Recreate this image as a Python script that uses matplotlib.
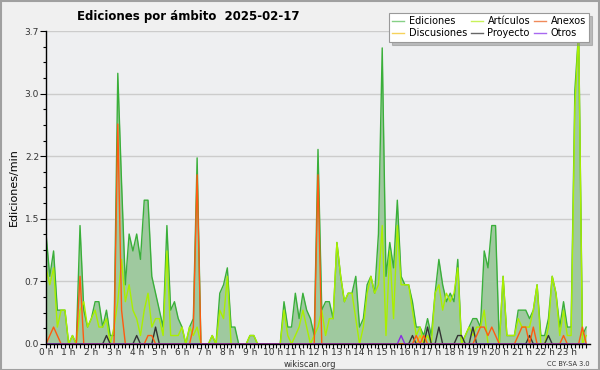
import matplotlib
matplotlib.use("Agg")
import matplotlib.pyplot as plt
from matplotlib.lines import Line2D
from matplotlib.patches import Rectangle
import numpy as np

# ---------------------------------------------------------------------------
# Data: ediciones por minuto, un valor cada 10 minutos (144 puntos)
# ---------------------------------------------------------------------------

TITLE = "Ediciones por ámbito  2025-02-17"
HOUR_LABELS = [f"{h} h" for h in range(24)]
Y_TICKS = [0.0, 0.74, 1.48, 2.22, 2.96, 3.7]
Y_LABELS = ["0.0", "0.7", "1.5", "2.2", "3.0", "3.7"]

ediciones = [
    1.3, 0.8, 1.1, 0.4, 0.4, 0.4, 0.0, 0.1, 0.0, 1.4, 0.4, 0.2,
    0.3, 0.5, 0.5, 0.2, 0.4, 0.1, 0.1, 3.2, 1.9, 0.7, 1.3, 1.1,
    1.3, 1.0, 1.7, 1.7, 0.8, 0.6, 0.4, 0.2, 1.4, 0.4, 0.5, 0.3,
    0.2, 0.0, 0.2, 0.3, 2.2, 0.0, 0.0, 0.0, 0.1, 0.0, 0.6, 0.7,
    0.9, 0.2, 0.2, 0.0, 0.0, 0.0, 0.1, 0.1, 0.0, 0.0, 0.0, 0.0,
    0.0, 0.0, 0.0, 0.5, 0.2, 0.2, 0.6, 0.3, 0.6, 0.4, 0.3, 0.1,
    2.3, 0.4, 0.5, 0.5, 0.3, 1.2, 0.8, 0.5, 0.6, 0.6, 0.8, 0.2,
    0.3, 0.7, 0.8, 0.6, 1.3, 3.5, 0.8, 1.2, 0.9, 1.7, 0.8, 0.7,
    0.7, 0.5, 0.2, 0.2, 0.1, 0.3, 0.1, 0.6, 1.0, 0.7, 0.5, 0.6,
    0.5, 1.0, 0.0, 0.1, 0.2, 0.3, 0.3, 0.2, 1.1, 0.9, 1.4, 1.4,
    0.0, 0.8, 0.1, 0.1, 0.1, 0.4, 0.4, 0.4, 0.3, 0.4, 0.7, 0.1,
    0.1, 0.3, 0.8, 0.6, 0.2, 0.5, 0.2, 0.2, 3.0, 3.7, 0.1, 0.2,
]

articulos = [
    0.9, 0.7, 0.9, 0.2, 0.4, 0.4, 0.0, 0.1, 0.0, 0.4, 0.5, 0.2,
    0.3, 0.4, 0.2, 0.2, 0.3, 0.0, 0.2, 0.5, 1.0, 0.5, 0.7, 0.4,
    0.3, 0.1, 0.4, 0.6, 0.2, 0.3, 0.3, 0.1, 1.1, 0.1, 0.1, 0.1,
    0.2, 0.0, 0.2, 0.1, 0.2, 0.0, 0.0, 0.0, 0.1, 0.0, 0.4, 0.3,
    0.8, 0.0, 0.0, 0.0, 0.0, 0.0, 0.1, 0.1, 0.0, 0.0, 0.0, 0.0,
    0.0, 0.0, 0.0, 0.4, 0.1, 0.0, 0.1, 0.2, 0.4, 0.2, 0.0, 0.1,
    0.2, 0.4, 0.1, 0.3, 0.3, 1.2, 0.8, 0.5, 0.6, 0.6, 0.3, 0.0,
    0.2, 0.6, 0.8, 0.6, 0.7, 1.4, 0.1, 1.1, 0.3, 1.4, 0.7, 0.7,
    0.7, 0.4, 0.1, 0.2, 0.0, 0.1, 0.0, 0.6, 0.7, 0.4, 0.6, 0.5,
    0.6, 0.9, 0.0, 0.1, 0.2, 0.1, 0.2, 0.2, 0.4, 0.0, 0.0, 0.0,
    0.0, 0.8, 0.1, 0.1, 0.1, 0.3, 0.2, 0.2, 0.2, 0.4, 0.7, 0.0,
    0.0, 0.2, 0.8, 0.6, 0.1, 0.4, 0.1, 0.1, 2.8, 3.7, 0.0, 0.1,
]

anexos = [
    0, 0.1, 0.2, 0.1, 0, 0, 0, 0, 0, 0.8, 0, 0,
    0, 0, 0, 0, 0, 0, 0, 2.6, 0.4, 0, 0, 0,
    0, 0, 0, 0.1, 0.1, 0, 0, 0, 0, 0, 0, 0,
    0, 0, 0, 0.2, 2.0, 0, 0, 0, 0, 0, 0, 0,
    0, 0, 0, 0, 0, 0, 0, 0, 0, 0, 0, 0,
    0, 0, 0, 0, 0, 0, 0, 0, 0, 0, 0, 0,
    2.0, 0, 0, 0, 0, 0, 0, 0, 0, 0, 0, 0,
    0, 0, 0, 0, 0, 0, 0, 0, 0, 0, 0, 0,
    0, 0, 0.1, 0, 0.1, 0, 0, 0, 0, 0, 0, 0,
    0, 0, 0, 0, 0, 0, 0.1, 0.2, 0.2, 0.1, 0.2, 0.1,
    0, 0, 0, 0, 0, 0.1, 0.2, 0.2, 0, 0.2, 0, 0,
    0, 0, 0, 0, 0, 0.1, 0, 0, 0, 0, 0.2, 0,
]

proyecto = [
    0, 0, 0, 0, 0, 0, 0, 0, 0, 0, 0, 0,
    0, 0, 0, 0, 0.1, 0, 0, 0, 0, 0, 0, 0,
    0.1, 0, 0, 0, 0, 0.2, 0, 0, 0, 0, 0, 0,
    0, 0, 0, 0, 0, 0, 0, 0, 0, 0, 0, 0,
    0, 0, 0, 0, 0, 0, 0, 0, 0, 0, 0, 0,
    0, 0, 0, 0, 0, 0, 0, 0, 0, 0, 0, 0,
    0, 0, 0, 0, 0, 0, 0, 0, 0, 0, 0, 0,
    0, 0, 0, 0, 0, 0, 0, 0, 0, 0, 0, 0,
    0, 0.1, 0, 0, 0, 0.2, 0, 0, 0.2, 0, 0, 0,
    0, 0.1, 0.1, 0, 0, 0.2, 0, 0, 0, 0, 0, 0,
    0, 0, 0, 0, 0, 0, 0, 0, 0.1, 0, 0, 0,
    0, 0.1, 0, 0, 0, 0, 0, 0, 0, 0, 0, 0,
]

otros = [0.0] * 144
otros[94] = 0.1          # 15:40

discusiones = [0.0] * 144
discusiones[99] = 0.1    # 16:30

# ---------------------------------------------------------------------------
# Style
# ---------------------------------------------------------------------------

BG_FIG = "#f0f0f0"
BG_AX = "#eeeff1"
FILL_ED = "#9fc99f"
LINE_ED = "#3aaf3a"

SERIES = [
    # label, data, plot colour, legend colour
    ("Ediciones", ediciones, LINE_ED, "#86d086"),
    ("Discusiones", discusiones, "#f2c200", "#f6d25a"),
    ("Artículos", articulos, "#aaef00", "#c8f25a"),
    ("Proyecto", proyecto, "#333333", "#666666"),
    ("Anexos", anexos, "#ff5a10", "#f08a5a"),
    ("Otros", otros, "#8a2be2", "#a868f0"),
]

plt.rcParams["font.family"] = ["DejaVu Sans"]

fig = plt.figure(figsize=(6.0, 3.7), dpi=100, facecolor=BG_FIG)
ax = fig.add_axes([0.0767, 0.0703, 0.9066, 0.8459], facecolor=BG_AX)

x = np.arange(len(ediciones)) / 6.0

ax.fill_between(x, 0, ediciones, color=FILL_ED, linewidth=0, zorder=2)
ax.plot(x, ediciones, color=LINE_ED, lw=1.0, zorder=3)
for label, data, col, _ in SERIES[1:]:
    ax.plot(x, data, color=col, lw=1.0, zorder=4)

ax.set_xlim(0, 24)
ax.set_ylim(0, 3.7)

ax.set_yticks(Y_TICKS)
ax.set_yticklabels(Y_LABELS)
ax.set_yticks(np.arange(0, 3.71, 0.185), minor=True)
ax.set_xticks(np.arange(24))
ax.set_xticklabels(HOUR_LABELS)
ax.set_xticks(np.arange(0, 24, 1 / 6.0), minor=True)

ax.tick_params(axis="both", which="both", direction="out", color="black",
               labelsize=6.5, labelcolor="#333333", width=0.8)
ax.tick_params(axis="x", which="both", length=3, pad=0)
ax.tick_params(axis="y", which="major", length=4, pad=1)
ax.tick_params(axis="y", which="minor", length=2.5)

ax.grid(axis="y", which="major", color="#cccccc", lw=1.0, zorder=1)
ax.set_axisbelow(True)

for side in ("top", "right"):
    ax.spines[side].set_visible(False)
for side in ("left", "bottom"):
    ax.spines[side].set_color("black")
    ax.spines[side].set_linewidth(1.0)
    ax.spines[side].set_zorder(5)

ax.set_ylabel("Ediciones/min", fontsize=8, labelpad=4)

fig.text(0.313, 0.955, TITLE, ha="center", va="center",
         fontsize=8.5, fontweight="bold")
fig.text(0.517, 0.016, "wikiscan.org", ha="center", va="center",
         fontsize=6, color="#333333")
fig.text(0.983, 0.016, "CC BY-SA 3.0", ha="right", va="center",
         fontsize=4.8, color="#333333")

handles = [Line2D([0], [0], color=lc, lw=1.0) for _, _, _, lc in SERIES]
labels = [s[0] for s in SERIES]
leg = fig.legend(handles, labels, ncol=3, loc="upper right",
                 bbox_to_anchor=(0.99, 0.978), fontsize=7,
                 frameon=True, fancybox=False, shadow={"color": "#888888"},
                 edgecolor="#999999", facecolor="white", framealpha=1,
                 handlelength=1.2, handletextpad=0.5, columnspacing=0.4,
                 labelspacing=0.2, borderpad=0.35)
leg.get_frame().set_linewidth(0.8)

# outer border of the image
fig.patches.append(Rectangle((0.001, 0.001), 0.997, 0.997,
                             transform=fig.transFigure, fill=False,
                             edgecolor="#a0a0a0", lw=1.5))

fig.savefig("out.png", dpi=100, facecolor=BG_FIG)
